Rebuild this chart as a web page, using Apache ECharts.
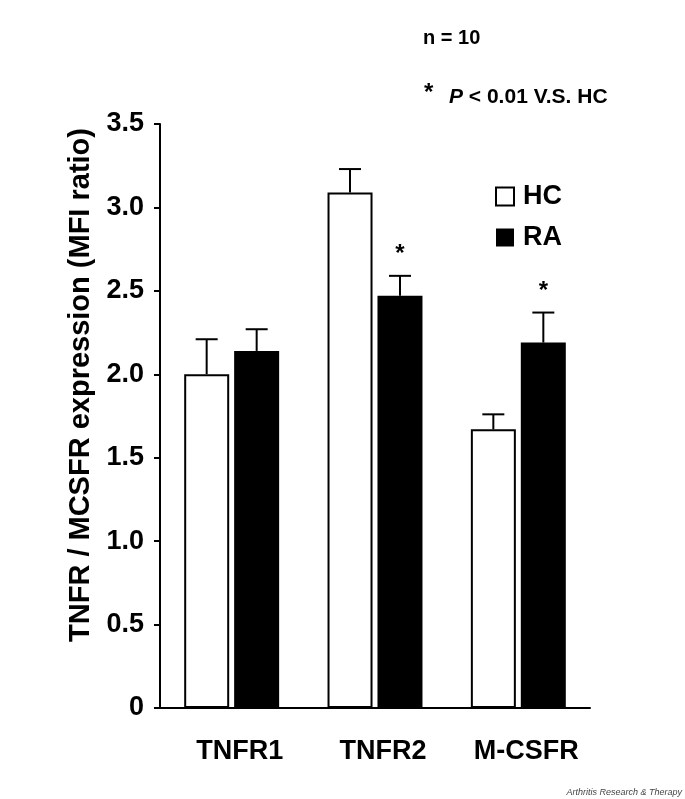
<!DOCTYPE html>
<html>
<head>
<meta charset="utf-8">
<script src="https://cdn.jsdelivr.net/npm/echarts@6/dist/echarts.min.js"></script>
<style>
  html, body { margin: 0; padding: 0; background: #fff; }
  #chart { width: 685px; height: 799px; }
</style>
</head>
<body>
<div id="chart"></div>
<script>
const categories = ["TNFR1", "TNFR2", "M-CSFR"];
const hcMean = [2.0, 3.09, 1.67];
const hcErr = [0.21, 0.14, 0.09];
const raMean = [2.14, 2.47, 2.19];
const raErr = [0.13, 0.12, 0.18];
const raSignificant = [false, true, true];
const yTickLabels = ["0", "0.5", "1.0", "1.5", "2.0", "2.5", "3.0", "3.5"];

const font = "'Liberation Sans', Arial, sans-serif";
const barW = 45;
const offset = 25;

const chart = echarts.init(document.getElementById("chart"), null, { renderer: "canvas" });

// upper half of the error bar, plus the significance star
function errorItem(shift) {
  return function (params, api) {
    const cat = api.value(0);
    const mean = api.value(1);
    const err = api.value(2);
    const sig = api.value(3);
    const base = api.coord([cat, mean]);
    const top = api.coord([cat, mean + err]);
    const x = base[0] + shift;
    const children = [
      {
        type: "line",
        shape: { x1: x, y1: base[1], x2: x, y2: top[1] },
        style: { stroke: "#000", lineWidth: 2 }
      },
      {
        type: "line",
        shape: { x1: x - 11, y1: top[1], x2: x + 11, y2: top[1] },
        style: { stroke: "#000", lineWidth: 2 }
      }
    ];
    if (sig) {
      children.push({
        type: "text",
        style: {
          text: "*",
          x: x,
          y: top[1] - 9,
          align: "center",
          verticalAlign: "bottom",
          font: "bold 24px " + font,
          fill: "#000"
        }
      });
    }
    return { type: "group", children: children };
  };
}

const option = {
  animation: false,
  backgroundColor: "#fff",
  grid: { left: 160, right: 95, top: 124, bottom: 91 },
  legend: {
    orient: "vertical",
    left: 490,
    top: 178,
    itemWidth: 18,
    itemHeight: 18,
    itemGap: 14,
    icon: "rect",
    textStyle: { fontFamily: font, fontWeight: "bold", fontSize: 27, color: "#000", padding: [0, 0, 0, 4] },
    data: [
      { name: "HC", itemStyle: { color: "#fff", borderColor: "#000", borderWidth: 2 } },
      { name: "RA", itemStyle: { color: "#000", borderColor: "#000", borderWidth: 0 } }
    ]
  },
  xAxis: {
    type: "category",
    data: categories,
    axisLine: { lineStyle: { color: "#000", width: 2 } },
    axisTick: { show: false },
    axisLabel: {
      margin: 30,
      color: "#000",
      fontFamily: font,
      fontWeight: "bold",
      fontSize: 27,
      padding: [0, 0, 0, 16]
    },
    splitLine: { show: false }
  },
  yAxis: {
    type: "value",
    min: 0,
    max: 3.5,
    interval: 0.5,
    axisLine: { show: true, lineStyle: { color: "#000", width: 2 } },
    axisTick: { show: true, length: 6, lineStyle: { color: "#000", width: 2 } },
    axisLabel: {
      margin: 16,
      color: "#000",
      fontFamily: font,
      fontWeight: "bold",
      fontSize: 27,
      padding: [8, 0, 0, 0],
      formatter: function (v) { return yTickLabels[Math.round(v / 0.5)]; }
    },
    splitLine: { show: false }
  },
  graphic: [
    {
      type: "text",
      x: 81,
      y: 385,
      rotation: Math.PI / 2,
      style: {
        text: "TNFR / MCSFR expression (MFI ratio)",
        align: "center",
        verticalAlign: "middle",
        font: "bold 29px " + font,
        fill: "#000"
      }
    },
    {
      type: "text",
      x: 423,
      y: 38,
      style: { text: "n = 10", verticalAlign: "middle", font: "bold 20px " + font, fill: "#000" }
    },
    {
      type: "text",
      x: 424,
      y: 93,
      style: { text: "*", verticalAlign: "middle", font: "bold 24px " + font, fill: "#000" }
    },
    {
      type: "text",
      x: 449,
      y: 97,
      style: {
        text: "{p|P} < 0.01 V.S. HC",
        verticalAlign: "middle",
        font: "bold 21px " + font,
        fill: "#000",
        rich: { p: { font: "italic bold 21px " + font, fill: "#000" } }
      }
    },
    {
      type: "text",
      right: 3,
      bottom: 2,
      style: { text: "Arthritis Research & Therapy", font: "italic 9px " + font, fill: "#444" }
    }
  ],
  series: [
    {
      name: "HC",
      type: "bar",
      barWidth: barW,
      barGap: "11%",
      data: hcMean,
      itemStyle: { color: "#fff", borderColor: "#000", borderWidth: 2 }
    },
    {
      name: "RA",
      type: "bar",
      barWidth: barW,
      data: raMean,
      itemStyle: { color: "#000" }
    },
    {
      name: "HC err",
      type: "custom",
      z: 5,
      renderItem: errorItem(-offset),
      data: hcMean.map(function (m, i) { return [i, m, hcErr[i], 0]; })
    },
    {
      name: "RA err",
      type: "custom",
      z: 5,
      renderItem: errorItem(offset),
      data: raMean.map(function (m, i) { return [i, m, raErr[i], raSignificant[i] ? 1 : 0]; })
    }
  ]
};

chart.setOption(option);
</script>
</body>
</html>
